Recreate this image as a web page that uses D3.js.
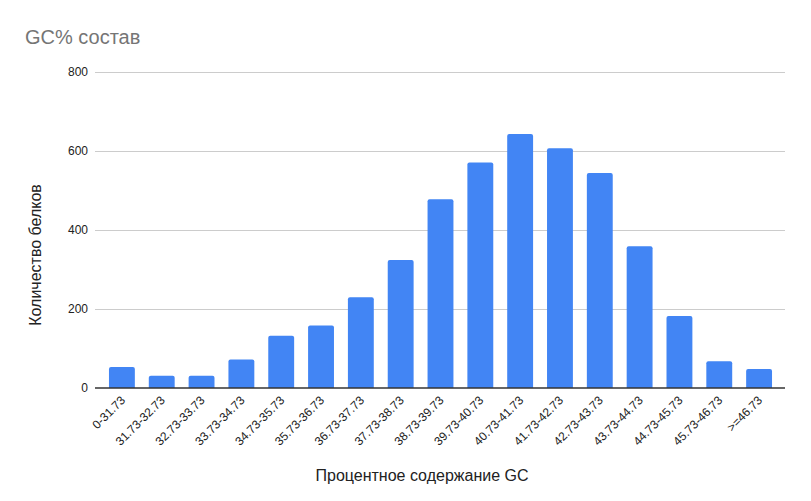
<!DOCTYPE html>
<html><head><meta charset="utf-8">
<script src="https://cdn.jsdelivr.net/npm/d3@7"></script>
<style>body{margin:0;background:#fff}svg{display:block}</style>
</head><body>
<svg id="c" width="811" height="501"></svg>
<script>
const categories = ["0-31.73","31.73-32.73","32.73-33.73","33.73-34.73","34.73-35.73","35.73-36.73","36.73-37.73","37.73-38.73","38.73-39.73","39.73-40.73","40.73-41.73","41.73-42.73","42.73-43.73","43.73-44.73","44.73-45.73","45.73-46.73",">=46.73"];
const values = [53, 31, 31, 72, 132, 158, 230, 324, 478, 571, 643, 607, 544, 359, 182, 68, 48];
const yTicks = [0, 200, 400, 600, 800];
const title = "GC% состав";
const xTitle = "Процентное содержание GC";
const yTitle = "Количество белков";

const svg = d3.select("#c");
const font = "Arial, 'Liberation Sans', sans-serif";
const gridL = 95, gridR = 785;
const x = d3.scaleBand().domain(categories).range([102, 779]).paddingInner(0.35).paddingOuter(0.175);
const y = d3.scaleLinear().domain([0, 800]).range([388, 72]);

// gridlines
svg.append("g").selectAll("line").data(yTicks.filter(d => d > 0)).join("line")
  .attr("x1", gridL).attr("x2", gridR)
  .attr("y1", d => y(d)).attr("y2", d => y(d))
  .attr("stroke", "#cccccc").attr("stroke-width", 1).attr("shape-rendering", "crispEdges");

// y tick labels
svg.append("g").selectAll("text").data(yTicks).join("text")
  .attr("x", 88).attr("y", d => y(d)).attr("dy", "0.35em")
  .attr("text-anchor", "end").attr("font-family", font).attr("font-size", 12).attr("fill", "#222")
  .text(d => d);

// bars with rounded top corners
const r = 2;
svg.append("g").selectAll("path").data(values).join("path")
  .attr("fill", "#4285f4")
  .attr("d", (d, i) => {
    const x0 = x(categories[i]), w = x.bandwidth(), y0 = y(d), yb = y(0);
    return `M${x0},${yb}V${y0 + r}Q${x0},${y0} ${x0 + r},${y0}H${x0 + w - r}Q${x0 + w},${y0} ${x0 + w},${y0 + r}V${yb}Z`;
  });

// baseline
svg.append("line").attr("x1", gridL).attr("x2", gridR).attr("y1", y(0)).attr("y2", y(0))
  .attr("stroke", "#333").attr("stroke-width", 1.3);

// x labels
svg.append("g").selectAll("text").data(categories).join("text")
  .attr("transform", d => `translate(${x(d) + x.bandwidth() / 2 + 4},${y(0) + 13}) rotate(-45)`)
  .attr("text-anchor", "end").attr("font-family", font).attr("font-size", 12).attr("fill", "#222")
  .text(d => d);

// titles
svg.append("text").attr("x", 25).attr("y", 43.5).attr("font-family", font)
  .attr("font-size", 20).attr("fill", "#757575").text(title);
svg.append("text").attr("x", 422).attr("y", 481).attr("text-anchor", "middle")
  .attr("font-family", font).attr("font-size", 16).attr("fill", "#222").text(xTitle);
svg.append("text").attr("transform", "translate(41,255) rotate(-90)").attr("text-anchor", "middle")
  .attr("font-family", font).attr("font-size", 16).attr("fill", "#222").text(yTitle);
</script>
</body></html>
